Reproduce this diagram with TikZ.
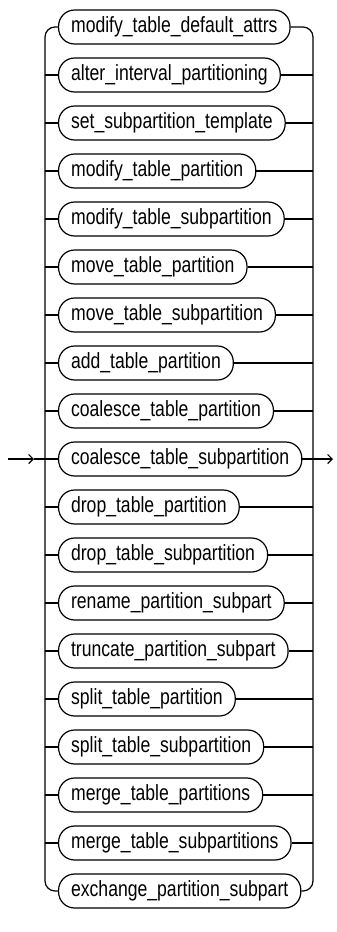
\documentclass[tikz,border=0pt]{standalone}
\usepackage{fontspec}
\setmainfont{Liberation Sans}[FakeStretch=0.8]
\usetikzlibrary{arrows.meta,positioning,calc}

\begin{document}
\begin{tikzpicture}[x=1pt, y=1pt, line width=1.2pt, >={Straight Barb[length=4.5pt,width=9pt]},
  rule/.style={draw, rounded corners=16pt, minimum height=34pt, inner xsep=12.5pt, inner ysep=0pt,
    font=\fontsize{22}{24}\selectfont, anchor=west}]
  \useasboundingbox (0,0) rectangle (337,-932);
  % one rounded box per alternative
  \foreach \name [count=\i] in {modify\_table\_default\_attrs, alter\_interval\_partitioning,
      set\_subpartition\_template, modify\_table\_partition, modify\_table\_subpartition,
      move\_table\_partition, move\_table\_subpartition, add\_table\_partition,
      coalesce\_table\_partition, coalesce\_table\_subpartition, drop\_table\_partition,
      drop\_table\_subpartition, rename\_partition\_subpart, truncate\_partition\_subpart,
      split\_table\_partition, split\_table\_subpartition, merge\_table\_partitions,
      merge\_table\_subpartitions, exchange\_partition\_subpart} {
    \node[rule] (r\i) at (58,{-27-48*(\i-1)}) {\name};
    \coordinate (l\i) at (45,{-27-48*(\i-1)});
    \coordinate (rr\i) at (313,{-27-48*(\i-1)});
  }
  % rails
  \draw[rounded corners=10pt] (r1.west) -| (l10) |- (r19.west);
  \draw[rounded corners=10pt] (r1.east) -| (rr10) |- (r19.east);
  \foreach \i in {2,...,18} {
    \draw (l\i) -- (r\i.west);
    \draw (r\i.east) -- (rr\i);
  }
  % entry and exit
  \coordinate (in) at (8,-459);
  \coordinate (tip) at (34,-459);
  \coordinate (out) at (333,-459);
  \draw[->] (in) -- (tip);
  \draw (tip) -- (l10);
  \draw[->] (rr10) -- (out);
\end{tikzpicture}
\end{document}
